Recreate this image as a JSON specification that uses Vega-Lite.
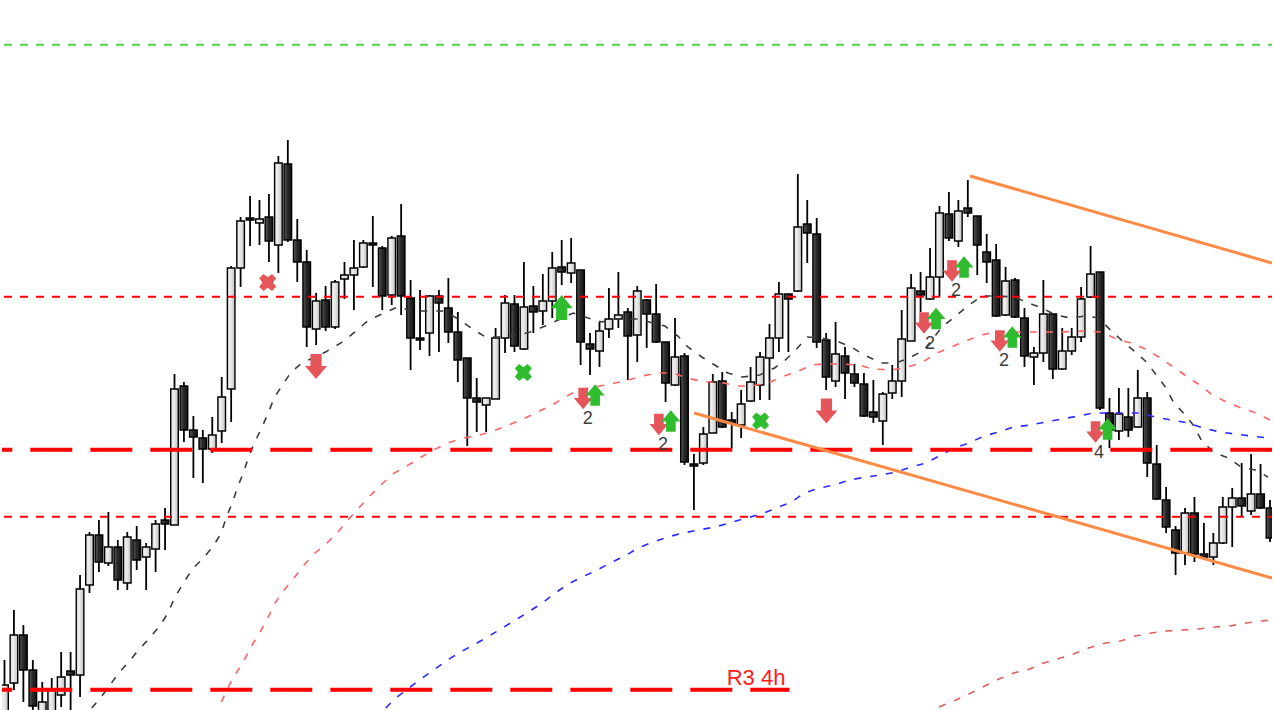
{
  "$schema": "https://vega.github.io/schema/vega-lite/v6.json",
  "description": "Candlestick chart with moving averages, levels, trend lines and signals",
  "width": 1274,
  "height": 710,
  "autosize": {"type": "fit", "contains": "padding"},
  "padding": 0,
  "background": "white",
  "config": {"view": {"stroke": null}, "scale": {"continuousPadding": 0}},
  "resolve": {"scale": {"color": "independent", "shape": "independent", "size": "independent"}},
  "datasets": {
    "bars": [
      {"i":0,"o":-5,"h":50,"l":-10,"c":25},{"i":1,"o":27,"h":100,"l":20,"c":75},{"i":2,"o":75,"h":85,"l":8,"c":40},
      {"i":3,"o":40,"h":50,"l":-2,"c":4},{"i":4,"o":-2,"h":28,"l":-10,"c":8},{"i":5,"o":-5,"h":32,"l":-10,"c":20},
      {"i":6,"o":15,"h":58,"l":3,"c":33},{"i":7,"o":39,"h":58,"l":-2,"c":35},{"i":8,"o":35,"h":135,"l":13,"c":121},
      {"i":9,"o":125,"h":178,"l":117,"c":175},{"i":10,"o":175,"h":190,"l":138,"c":148},{"i":11,"o":147,"h":198,"l":144,"c":163},
      {"i":12,"o":163,"h":170,"l":120,"c":130},{"i":13,"o":127,"h":178,"l":120,"c":173},{"i":14,"o":170,"h":184,"l":140,"c":150},
      {"i":15,"o":153,"h":167,"l":120,"c":163},{"i":16,"o":161,"h":190,"l":138,"c":186},{"i":17,"o":190,"h":202,"l":160,"c":186},
      {"i":18,"o":185,"h":336,"l":185,"c":321},{"i":19,"o":324,"h":328,"l":268,"c":280},{"i":20,"o":280,"h":294,"l":232,"c":273},
      {"i":21,"o":272,"h":280,"l":227,"c":261},{"i":22,"o":261,"h":293,"l":257,"c":275},{"i":23,"o":279,"h":333,"l":267,"c":313},
      {"i":24,"o":321,"h":444,"l":288,"c":442},{"i":25,"o":442,"h":493,"l":423,"c":489},{"i":26,"o":492,"h":514,"l":464,"c":490},
      {"i":27,"o":487,"h":510,"l":465,"c":491},{"i":28,"o":493,"h":516,"l":448,"c":469},{"i":29,"o":465,"h":554,"l":437,"c":547},
      {"i":30,"o":546,"h":570,"l":468,"c":470},{"i":31,"o":470,"h":491,"l":428,"c":448},{"i":32,"o":448,"h":460,"l":363,"c":383},
      {"i":33,"o":381,"h":417,"l":365,"c":409},{"i":34,"o":410,"h":424,"l":379,"c":383},{"i":35,"o":383,"h":430,"l":381,"c":428},
      {"i":36,"o":431,"h":448,"l":411,"c":435},{"i":37,"o":435,"h":470,"l":400,"c":442},{"i":38,"o":443,"h":470,"l":442,"c":467},
      {"i":39,"o":467,"h":494,"l":423,"c":465},{"i":40,"o":462,"h":464,"l":400,"c":414},{"i":41,"o":415,"h":474,"l":405,"c":472},
      {"i":42,"o":474,"h":506,"l":395,"c":414},{"i":43,"o":412,"h":430,"l":340,"c":372},{"i":44,"o":372,"h":420,"l":360,"c":370},
      {"i":45,"o":377,"h":415,"l":354,"c":414},{"i":46,"o":414,"h":420,"l":358,"c":407},{"i":47,"o":402,"h":432,"l":367,"c":378},
      {"i":48,"o":378,"h":398,"l":328,"c":350},{"i":49,"o":352,"h":352,"l":264,"c":312},{"i":50,"o":312,"h":332,"l":278,"c":308},
      {"i":51,"o":305,"h":312,"l":278,"c":312},{"i":52,"o":311,"h":382,"l":311,"c":372},{"i":53,"o":372,"h":415,"l":357,"c":407},
      {"i":54,"o":406,"h":415,"l":358,"c":364},{"i":55,"o":361,"h":448,"l":360,"c":403},{"i":56,"o":404,"h":424,"l":377,"c":398},
      {"i":57,"o":399,"h":436,"l":385,"c":409},{"i":58,"o":409,"h":458,"l":392,"c":442},{"i":59,"o":443,"h":470,"l":425,"c":438},
      {"i":60,"o":437,"h":472,"l":427,"c":447},{"i":61,"o":440,"h":440,"l":345,"c":368},{"i":62,"o":366,"h":377,"l":335,"c":361},
      {"i":63,"o":359,"h":388,"l":343,"c":379},{"i":64,"o":381,"h":422,"l":372,"c":391},{"i":65,"o":391,"h":438,"l":382,"c":395},
      {"i":66,"o":398,"h":402,"l":330,"c":374},{"i":67,"o":375,"h":424,"l":348,"c":419},{"i":68,"o":410,"h":411,"l":362,"c":396},
      {"i":69,"o":396,"h":426,"l":367,"c":368},{"i":70,"o":368,"h":368,"l":308,"c":327},{"i":71,"o":325,"h":392,"l":324,"c":353},
      {"i":72,"o":354,"h":357,"l":245,"c":248},{"i":73,"o":246,"h":256,"l":200,"c":244},{"i":74,"o":247,"h":283,"l":245,"c":276},
      {"i":75,"o":277,"h":336,"l":277,"c":328},{"i":76,"o":329,"h":338,"l":282,"c":283},{"i":77,"o":290,"h":298,"l":262,"c":287},
      {"i":78,"o":285,"h":320,"l":272,"c":306},{"i":79,"o":309,"h":343,"l":308,"c":328},{"i":80,"o":325,"h":358,"l":310,"c":353},
      {"i":81,"o":352,"h":386,"l":310,"c":372},{"i":82,"o":372,"h":428,"l":358,"c":416},{"i":83,"o":416,"h":416,"l":358,"c":411},
      {"i":84,"o":419,"h":536,"l":418,"c":483},{"i":85,"o":486,"h":510,"l":447,"c":477},{"i":86,"o":476,"h":492,"l":362,"c":368},
      {"i":87,"o":370,"h":377,"l":320,"c":333},{"i":88,"o":329,"h":388,"l":323,"c":356},{"i":89,"o":354,"h":363,"l":311,"c":337},
      {"i":90,"o":336,"h":346,"l":323,"c":327},{"i":91,"o":326,"h":337,"l":293,"c":294},{"i":92,"o":298,"h":330,"l":287,"c":293},
      {"i":93,"o":289,"h":318,"l":265,"c":316},{"i":94,"o":317,"h":345,"l":311,"c":329},{"i":95,"o":329,"h":400,"l":313,"c":371},
      {"i":96,"o":369,"h":436,"l":369,"c":422},{"i":97,"o":419,"h":438,"l":398,"c":415},{"i":98,"o":411,"h":462,"l":410,"c":433},
      {"i":99,"o":433,"h":504,"l":413,"c":497},{"i":100,"o":496,"h":518,"l":469,"c":472},{"i":101,"o":469,"h":510,"l":463,"c":499},
      {"i":102,"o":502,"h":530,"l":493,"c":497},{"i":103,"o":494,"h":494,"l":435,"c":465},{"i":104,"o":458,"h":476,"l":427,"c":448},
      {"i":105,"o":450,"h":466,"l":393,"c":394},{"i":106,"o":395,"h":443,"l":394,"c":429},{"i":107,"o":430,"h":432,"l":392,"c":393},
      {"i":108,"o":392,"h":402,"l":343,"c":354},{"i":109,"o":353,"h":363,"l":325,"c":357},{"i":110,"o":357,"h":430,"l":348,"c":396},
      {"i":111,"o":396,"h":396,"l":331,"c":341},{"i":112,"o":341,"h":382,"l":340,"c":359},{"i":113,"o":359,"h":382,"l":355,"c":373},
      {"i":114,"o":373,"h":423,"l":368,"c":411},{"i":115,"o":413,"h":464,"l":412,"c":436},{"i":116,"o":438,"h":438,"l":300,"c":302},
      {"i":117,"o":297,"h":312,"l":262,"c":280},{"i":118,"o":279,"h":322,"l":270,"c":296},{"i":119,"o":293,"h":322,"l":273,"c":280},
      {"i":120,"o":283,"h":340,"l":282,"c":312},{"i":121,"o":312,"h":318,"l":233,"c":247},{"i":122,"o":246,"h":265,"l":210,"c":211},
      {"i":123,"o":210,"h":223,"l":177,"c":183},{"i":124,"o":180,"h":184,"l":135,"c":157},{"i":125,"o":157,"h":202,"l":145,"c":197},
      {"i":126,"o":197,"h":213,"l":148,"c":156},{"i":127,"o":156,"h":187,"l":150,"c":153},{"i":128,"o":153,"h":177,"l":145,"c":167},
      {"i":129,"o":167,"h":213,"l":166,"c":203},{"i":130,"o":203,"h":222,"l":163,"c":212},{"i":131,"o":212,"h":247,"l":193,"c":204},
      {"i":132,"o":199,"h":256,"l":195,"c":216},{"i":133,"o":216,"h":246,"l":201,"c":202},{"i":134,"o":202,"h":210,"l":168,"c":172}
    ],
    "ma": [
      {"m":"fast","i":9.24,"p":2},{"m":"fast","i":9.97,"p":10},{"m":"fast","i":11.03,"p":23},{"m":"fast","i":12.09,"p":37},
      {"m":"fast","i":13.14,"p":48},{"m":"fast","i":14.2,"p":60},{"m":"fast","i":15.36,"p":72},{"m":"fast","i":16.52,"p":85},
      {"m":"fast","i":17.36,"p":98},{"m":"fast","i":18.0,"p":112},{"m":"fast","i":18.95,"p":127},{"m":"fast","i":19.9,"p":141},
      {"m":"fast","i":21.06,"p":152},{"m":"fast","i":22.11,"p":164},{"m":"fast","i":22.96,"p":177},{"m":"fast","i":23.49,"p":193},
      {"m":"fast","i":24.12,"p":207},{"m":"fast","i":24.65,"p":222},{"m":"fast","i":25.28,"p":237},{"m":"fast","i":25.81,"p":252},
      {"m":"fast","i":26.44,"p":267},{"m":"fast","i":27.18,"p":281},{"m":"fast","i":27.92,"p":297},{"m":"fast","i":28.55,"p":312},
      {"m":"fast","i":29.5,"p":326},{"m":"fast","i":30.35,"p":338},{"m":"fast","i":31.61,"p":348},{"m":"fast","i":32.98,"p":353},
      {"m":"fast","i":34.57,"p":361},{"m":"fast","i":35.94,"p":369},{"m":"fast","i":37.21,"p":379},{"m":"fast","i":38.58,"p":390},
      {"m":"fast","i":40.19,"p":397},{"m":"fast","i":41.64,"p":403},{"m":"fast","i":43.22,"p":399},{"m":"fast","i":46.39,"p":399},
      {"m":"fast","i":48.08,"p":391},{"m":"fast","i":49.56,"p":381},{"m":"fast","i":50.93,"p":373},{"m":"fast","i":52.3,"p":373},
      {"m":"fast","i":54.41,"p":375},{"m":"fast","i":55.68,"p":378},{"m":"fast","i":57.26,"p":384},{"m":"fast","i":58.63,"p":390},
      {"m":"fast","i":60.22,"p":397},{"m":"fast","i":61.8,"p":392},{"m":"fast","i":63.28,"p":388},{"m":"fast","i":64.33,"p":391},
      {"m":"fast","i":67.08,"p":391},{"m":"fast","i":69.93,"p":384},{"m":"fast","i":71.3,"p":374},{"m":"fast","i":72.36,"p":363},
      {"m":"fast","i":73.83,"p":353},{"m":"fast","i":75.2,"p":345},{"m":"fast","i":76.58,"p":337},{"m":"fast","i":78.16,"p":333},
      {"m":"fast","i":79.96,"p":335},{"m":"fast","i":81.54,"p":342},{"m":"fast","i":82.81,"p":351},{"m":"fast","i":83.97,"p":362},
      {"m":"fast","i":85.02,"p":373},{"m":"fast","i":86.5,"p":372},{"m":"fast","i":88.08,"p":369},{"m":"fast","i":89.67,"p":363},
      {"m":"fast","i":91.04,"p":355},{"m":"fast","i":92.83,"p":347},{"m":"fast","i":94.42,"p":347},{"m":"fast","i":95.79,"p":352},
      {"m":"fast","i":97.37,"p":360},{"m":"fast","i":99.27,"p":383},{"m":"fast","i":100.86,"p":395},{"m":"fast","i":102.12,"p":405},
      {"m":"fast","i":103.5,"p":414},{"m":"fast","i":104.97,"p":414},{"m":"fast","i":106.87,"p":413},{"m":"fast","i":108.46,"p":407},
      {"m":"fast","i":109.83,"p":402},{"m":"fast","i":111.3,"p":395},{"m":"fast","i":112.89,"p":392},{"m":"fast","i":114.47,"p":394},
      {"m":"fast","i":115.84,"p":392},{"m":"fast","i":117.11,"p":380},{"m":"fast","i":118.48,"p":368},{"m":"fast","i":119.75,"p":358},
      {"m":"fast","i":120.91,"p":348},{"m":"fast","i":121.97,"p":335},{"m":"fast","i":122.92,"p":323},{"m":"fast","i":123.76,"p":308},
      {"m":"fast","i":124.82,"p":297},{"m":"fast","i":125.87,"p":285},{"m":"fast","i":126.72,"p":270},{"m":"fast","i":127.98,"p":258},
      {"m":"fast","i":129.57,"p":252},{"m":"fast","i":130.94,"p":243},{"m":"fast","i":132.42,"p":240},{"m":"fast","i":133.79,"p":233},
      {"m":"mid","i":22.96,"p":8},{"m":"mid","i":23.8,"p":25},{"m":"mid","i":24.54,"p":37},{"m":"mid","i":25.38,"p":50},
      {"m":"mid","i":26.23,"p":65},{"m":"mid","i":27.07,"p":78},{"m":"mid","i":27.92,"p":93},{"m":"mid","i":28.66,"p":107},
      {"m":"mid","i":29.61,"p":120},{"m":"mid","i":30.66,"p":132},{"m":"mid","i":31.72,"p":145},{"m":"mid","i":32.88,"p":157},
      {"m":"mid","i":34.15,"p":167},{"m":"mid","i":35.31,"p":178},{"m":"mid","i":36.36,"p":190},{"m":"mid","i":37.52,"p":202},
      {"m":"mid","i":38.69,"p":214},{"m":"mid","i":39.85,"p":225},{"m":"mid","i":41.11,"p":236},{"m":"mid","i":42.59,"p":244},
      {"m":"mid","i":43.96,"p":252},{"m":"mid","i":45.44,"p":260},{"m":"mid","i":46.92,"p":267},{"m":"mid","i":48.61,"p":272},
      {"m":"mid","i":50.3,"p":275},{"m":"mid","i":51.77,"p":279},{"m":"mid","i":53.36,"p":285},{"m":"mid","i":54.94,"p":291},
      {"m":"mid","i":56.42,"p":298},{"m":"mid","i":58.0,"p":305},{"m":"mid","i":59.37,"p":313},{"m":"mid","i":60.75,"p":320},
      {"m":"mid","i":62.54,"p":323},{"m":"mid","i":64.12,"p":326},{"m":"mid","i":65.71,"p":329},{"m":"mid","i":67.5,"p":334},
      {"m":"mid","i":69.19,"p":337},{"m":"mid","i":70.77,"p":337},{"m":"mid","i":72.25,"p":332},{"m":"mid","i":74.15,"p":328},
      {"m":"mid","i":75.74,"p":328},{"m":"mid","i":77.53,"p":324},{"m":"mid","i":79.11,"p":324},{"m":"mid","i":80.8,"p":327},
      {"m":"mid","i":82.28,"p":333},{"m":"mid","i":83.86,"p":338},{"m":"mid","i":85.45,"p":345},{"m":"mid","i":86.61,"p":346},
      {"m":"mid","i":88.6,"p":346},{"m":"mid","i":90.3,"p":345},{"m":"mid","i":92.1,"p":341},{"m":"mid","i":93.89,"p":340},
      {"m":"mid","i":95.26,"p":342},{"m":"mid","i":97.06,"p":347},{"m":"mid","i":98.75,"p":357},{"m":"mid","i":100.23,"p":363},
      {"m":"mid","i":101.8,"p":369},{"m":"mid","i":103.39,"p":375},{"m":"mid","i":104.97,"p":378},{"m":"mid","i":106.87,"p":378},
      {"m":"mid","i":109.19,"p":378},{"m":"mid","i":111.62,"p":378},{"m":"mid","i":114.47,"p":379},{"m":"mid","i":116.16,"p":378},
      {"m":"mid","i":117.96,"p":370},{"m":"mid","i":119.33,"p":367},{"m":"mid","i":120.81,"p":361},{"m":"mid","i":122.39,"p":352},
      {"m":"mid","i":123.76,"p":343},{"m":"mid","i":125.13,"p":334},{"m":"mid","i":126.4,"p":326},{"m":"mid","i":127.77,"p":316},
      {"m":"mid","i":129.36,"p":308},{"m":"mid","i":130.94,"p":302},{"m":"mid","i":132.52,"p":297},{"m":"mid","i":134.0,"p":290},
      {"m":"slow","i":40.37,"p":2},{"m":"slow","i":41.43,"p":12},{"m":"slow","i":42.7,"p":21},{"m":"slow","i":44.07,"p":31},
      {"m":"slow","i":45.44,"p":40},{"m":"slow","i":46.92,"p":50},{"m":"slow","i":48.29,"p":58},{"m":"slow","i":49.66,"p":65},
      {"m":"slow","i":51.14,"p":73},{"m":"slow","i":52.72,"p":82},{"m":"slow","i":54.1,"p":90},{"m":"slow","i":55.47,"p":98},
      {"m":"slow","i":56.94,"p":107},{"m":"slow","i":58.32,"p":117},{"m":"slow","i":59.69,"p":126},{"m":"slow","i":61.17,"p":133},
      {"m":"slow","i":62.75,"p":140},{"m":"slow","i":64.12,"p":147},{"m":"slow","i":65.71,"p":154},{"m":"slow","i":67.08,"p":162},
      {"m":"slow","i":68.66,"p":168},{"m":"slow","i":70.25,"p":173},{"m":"slow","i":71.83,"p":177},{"m":"slow","i":73.52,"p":180},
      {"m":"slow","i":75.21,"p":183},{"m":"slow","i":76.79,"p":187},{"m":"slow","i":78.58,"p":192},{"m":"slow","i":80.17,"p":196},
      {"m":"slow","i":81.75,"p":202},{"m":"slow","i":83.33,"p":208},{"m":"slow","i":84.71,"p":217},{"m":"slow","i":86.29,"p":222},
      {"m":"slow","i":87.87,"p":225},{"m":"slow","i":89.46,"p":230},{"m":"slow","i":91.25,"p":233},{"m":"slow","i":92.83,"p":235},
      {"m":"slow","i":94.42,"p":238},{"m":"slow","i":96.0,"p":243},{"m":"slow","i":97.58,"p":247},{"m":"slow","i":99.17,"p":255},
      {"m":"slow","i":100.54,"p":262},{"m":"slow","i":102.12,"p":267},{"m":"slow","i":103.71,"p":274},{"m":"slow","i":105.29,"p":278},
      {"m":"slow","i":106.87,"p":283},{"m":"slow","i":108.66,"p":285},{"m":"slow","i":110.25,"p":288},{"m":"slow","i":111.94,"p":291},
      {"m":"slow","i":113.73,"p":294},{"m":"slow","i":115.32,"p":297},{"m":"slow","i":116.9,"p":297},{"m":"slow","i":118.7,"p":297},
      {"m":"slow","i":120.28,"p":297},{"m":"slow","i":121.86,"p":293},{"m":"slow","i":123.55,"p":290},{"m":"slow","i":125.34,"p":287},
      {"m":"slow","i":126.93,"p":282},{"m":"slow","i":128.72,"p":278},{"m":"slow","i":130.3,"p":276},{"m":"slow","i":132.0,"p":274},
      {"m":"slow","i":133.79,"p":272},
      {"m":"slowest","i":98.96,"p":3},{"m":"slowest","i":100.75,"p":10},{"m":"slowest","i":102.33,"p":17},{"m":"slowest","i":103.8,"p":24},
      {"m":"slowest","i":105.29,"p":31},{"m":"slowest","i":106.87,"p":37},{"m":"slowest","i":108.56,"p":41},{"m":"slowest","i":110.03,"p":47},
      {"m":"slowest","i":111.83,"p":52},{"m":"slowest","i":113.2,"p":56},{"m":"slowest","i":114.79,"p":62},{"m":"slowest","i":116.58,"p":67},
      {"m":"slowest","i":118.17,"p":69},{"m":"slowest","i":119.75,"p":74},{"m":"slowest","i":121.44,"p":77},{"m":"slowest","i":123.02,"p":79},
      {"m":"slowest","i":124.61,"p":80},{"m":"slowest","i":126.4,"p":81},{"m":"slowest","i":128.2,"p":83},{"m":"slowest","i":129.78,"p":84},
      {"m":"slowest","i":131.47,"p":87},{"m":"slowest","i":133.05,"p":89},{"m":"slowest","i":134.21,"p":90}
    ]
  },
  "layer": [
    {
      "data": {"name": "bars"},
      "mark": {"type": "rule", "color": "#000000", "strokeWidth": 1.8, "clip": true},
      "encoding": {
        "x": {"field": "i", "type": "quantitative", "scale": {"domain": [-0.264, 134.21], "nice": false, "zero": false, "padding": 0}, "axis": null},
        "y": {"field": "l", "type": "quantitative", "scale": {"domain": [0, 710], "nice": false, "zero": false}, "axis": null},
        "y2": {"field": "h"}
      }
    },
    {
      "data": {"name": "bars"},
      "transform": [{"filter": "datum.c >= datum.o"}],
      "mark": {
        "type": "bar", "width": 7.6, "clip": true, "stroke": "#000000", "strokeWidth": 1.4,
        "fill": {"gradient": "linear", "x1": 0, "y1": 0, "x2": 1, "y2": 0,
          "stops": [{"offset": 0, "color": "#d4d4d4"}, {"offset": 0.35, "color": "#f0f0f0"}, {"offset": 1, "color": "#c2c2c2"}]}
      },
      "encoding": {
        "x": {"field": "i", "type": "quantitative", "scale": {"domain": [-0.264, 134.21], "nice": false, "zero": false, "padding": 0}, "axis": null},
        "y": {"field": "o", "type": "quantitative", "scale": {"domain": [0, 710], "nice": false, "zero": false}, "axis": null},
        "y2": {"field": "c"}
      }
    },
    {
      "data": {"name": "bars"},
      "transform": [{"filter": "datum.c < datum.o"}],
      "mark": {
        "type": "bar", "width": 7.6, "clip": true, "stroke": "#000000", "strokeWidth": 1.4,
        "fill": {"gradient": "linear", "x1": 0, "y1": 0, "x2": 1, "y2": 0,
          "stops": [{"offset": 0, "color": "#5c5c5c"}, {"offset": 0.45, "color": "#2a2a2a"}, {"offset": 1, "color": "#121212"}]}
      },
      "encoding": {
        "x": {"field": "i", "type": "quantitative", "scale": {"domain": [-0.264, 134.21], "nice": false, "zero": false, "padding": 0}, "axis": null},
        "y": {"field": "o", "type": "quantitative", "scale": {"domain": [0, 710], "nice": false, "zero": false}, "axis": null},
        "y2": {"field": "c"}
      }
    },
    {
      "data": {"name": "ma"},
      "mark": {"type": "line", "strokeWidth": 1.6, "strokeDash": [7, 9], "clip": true},
      "encoding": {
        "x": {"field": "i", "type": "quantitative", "scale": {"domain": [-0.264, 134.21], "nice": false, "zero": false, "padding": 0}, "axis": null},
        "y": {"field": "p", "type": "quantitative", "scale": {"domain": [0, 710], "nice": false, "zero": false}, "axis": null},
        "color": {"field": "m", "type": "nominal", "legend": null,
          "scale": {"domain": ["fast", "mid", "slow", "slowest"], "range": ["#3c3c3c", "#ff6464", "#2b2bff", "#dc5f5f"]}}
      }
    },
    {
      "data": {"values": [{"p": 665.3, "k": "green"}, {"p": 413.2, "k": "red"}, {"p": 193.2, "k": "red"}]},
      "mark": {"type": "rule", "strokeWidth": 2, "strokeDash": [8, 8], "strokeDashOffset": 4},
      "encoding": {
        "y": {"field": "p", "type": "quantitative", "scale": {"domain": [0, 710], "nice": false, "zero": false}, "axis": null},
        "color": {"field": "k", "type": "nominal", "legend": null,
          "scale": {"domain": ["green", "red"], "range": ["#4fd24f", "#ff0000"]}}
      }
    },
    {
      "data": {"values": [{"p": 260.2, "i0": -0.264, "i1": 134.21}, {"p": 20.3, "i0": -0.264, "i1": 83.12}]},
      "mark": {"type": "rule", "color": "#ff0000", "strokeWidth": 4, "strokeDash": [42, 18], "strokeDashOffset": 31.7},
      "encoding": {
        "x": {"field": "i0", "type": "quantitative", "scale": {"domain": [-0.264, 134.21], "nice": false, "zero": false, "padding": 0}, "axis": null},
        "x2": {"field": "i1"},
        "y": {"field": "p", "type": "quantitative", "scale": {"domain": [0, 710], "nice": false, "zero": false}, "axis": null}
      }
    },
    {
      "data": {"values": [{"i0": 102.23, "p0": 534, "i1": 134.21, "p1": 447}, {"i0": 73.02, "p0": 297, "i1": 134.21, "p1": 132}]},
      "mark": {"type": "rule", "color": "#ff8a45", "strokeWidth": 3, "clip": true},
      "encoding": {
        "x": {"field": "i0", "type": "quantitative", "scale": {"domain": [-0.264, 134.21], "nice": false, "zero": false, "padding": 0}, "axis": null},
        "x2": {"field": "i1"},
        "y": {"field": "p0", "type": "quantitative", "scale": {"domain": [0, 710], "nice": false, "zero": false}, "axis": null},
        "y2": {"field": "p1"}
      }
    },
    {
      "data": {"values": [
        {"i": 27.87, "p": 427.5, "k": "x", "s": "sell", "z": "x"},
        {"i": 32.99, "p": 343.5, "k": "down", "s": "sell", "z": "big"},
        {"i": 59.0, "p": 402.5, "k": "up", "s": "buy", "z": "big"},
        {"i": 54.94, "p": 337.5, "k": "x", "s": "buy", "z": "x"},
        {"i": 61.27, "p": 311.5, "k": "down", "s": "sell", "z": "small"},
        {"i": 62.54, "p": 315, "k": "up", "s": "buy", "z": "small"},
        {"i": 69.29, "p": 285.5, "k": "down", "s": "sell", "z": "small"},
        {"i": 70.56, "p": 289, "k": "up", "s": "buy", "z": "small"},
        {"i": 80.06, "p": 289, "k": "x", "s": "buy", "z": "x"},
        {"i": 87.03, "p": 299, "k": "down", "s": "sell", "z": "big"},
        {"i": 97.37, "p": 387, "k": "down", "s": "sell", "z": "small"},
        {"i": 98.64, "p": 391.5, "k": "up", "s": "buy", "z": "small"},
        {"i": 100.33, "p": 439, "k": "down", "s": "sell", "z": "small"},
        {"i": 101.6, "p": 443, "k": "up", "s": "buy", "z": "small"},
        {"i": 105.39, "p": 369, "k": "down", "s": "sell", "z": "small"},
        {"i": 106.71, "p": 373, "k": "up", "s": "buy", "z": "small"},
        {"i": 115.53, "p": 278, "k": "down", "s": "sell", "z": "small"},
        {"i": 116.8, "p": 281, "k": "up", "s": "buy", "z": "small"}
      ]},
      "mark": {"type": "point", "filled": true, "opacity": 1, "strokeWidth": 0},
      "encoding": {
        "x": {"field": "i", "type": "quantitative", "scale": {"domain": [-0.264, 134.21], "nice": false, "zero": false, "padding": 0}, "axis": null},
        "y": {"field": "p", "type": "quantitative", "scale": {"domain": [0, 710], "nice": false, "zero": false}, "axis": null},
        "shape": {"field": "k", "type": "nominal", "legend": null,
          "scale": {"domain": ["down", "up", "x"], "range": [
            "M-0.45,-1H0.45V-0.05H0.88L0,1L-0.88,-0.05H-0.45Z",
            "M-0.45,1H0.45V0.05H0.88L0,-1L-0.88,0.05H-0.45Z",
            "M-1,-0.5L-0.5,-1L0,-0.62L0.5,-1L1,-0.5L0.62,0L1,0.5L0.5,1L0,0.62L-0.5,1L-1,0.5L-0.62,0Z"]}},
        "color": {"field": "s", "type": "nominal", "legend": null,
          "scale": {"domain": ["sell", "buy"], "range": ["#e5565b", "#2fbd2f"]}},
        "size": {"field": "z", "type": "nominal", "legend": null,
          "scale": {"domain": ["big", "small", "x"], "range": [625, 289, 462]}}
      }
    },
    {
      "data": {"values": [
        {"i": 61.75, "p": 291, "t": "2"},
        {"i": 69.72, "p": 265, "t": "2"},
        {"i": 98.0, "p": 366.5, "t": "2"},
        {"i": 100.75, "p": 419.5, "t": "2"},
        {"i": 105.82, "p": 349.5, "t": "2"},
        {"i": 115.9, "p": 257.5, "t": "4"}
      ]},
      "mark": {"type": "text", "font": "Liberation Sans", "fontSize": 18, "color": "#3c3c3c", "align": "center", "baseline": "middle"},
      "encoding": {
        "x": {"field": "i", "type": "quantitative", "scale": {"domain": [-0.264, 134.21], "nice": false, "zero": false, "padding": 0}, "axis": null},
        "y": {"field": "p", "type": "quantitative", "scale": {"domain": [0, 710], "nice": false, "zero": false}, "axis": null},
        "text": {"field": "t"}
      }
    },
    {
      "data": {"values": [{"i": 76.47, "p": 25, "t": "R3 4h"}]},
      "mark": {"type": "text", "font": "Liberation Sans", "fontSize": 22, "color": "#ff1a1a", "align": "left", "baseline": "alphabetic"},
      "encoding": {
        "x": {"field": "i", "type": "quantitative", "scale": {"domain": [-0.264, 134.21], "nice": false, "zero": false, "padding": 0}, "axis": null},
        "y": {"field": "p", "type": "quantitative", "scale": {"domain": [0, 710], "nice": false, "zero": false}, "axis": null},
        "text": {"field": "t"}
      }
    }
  ]
}
